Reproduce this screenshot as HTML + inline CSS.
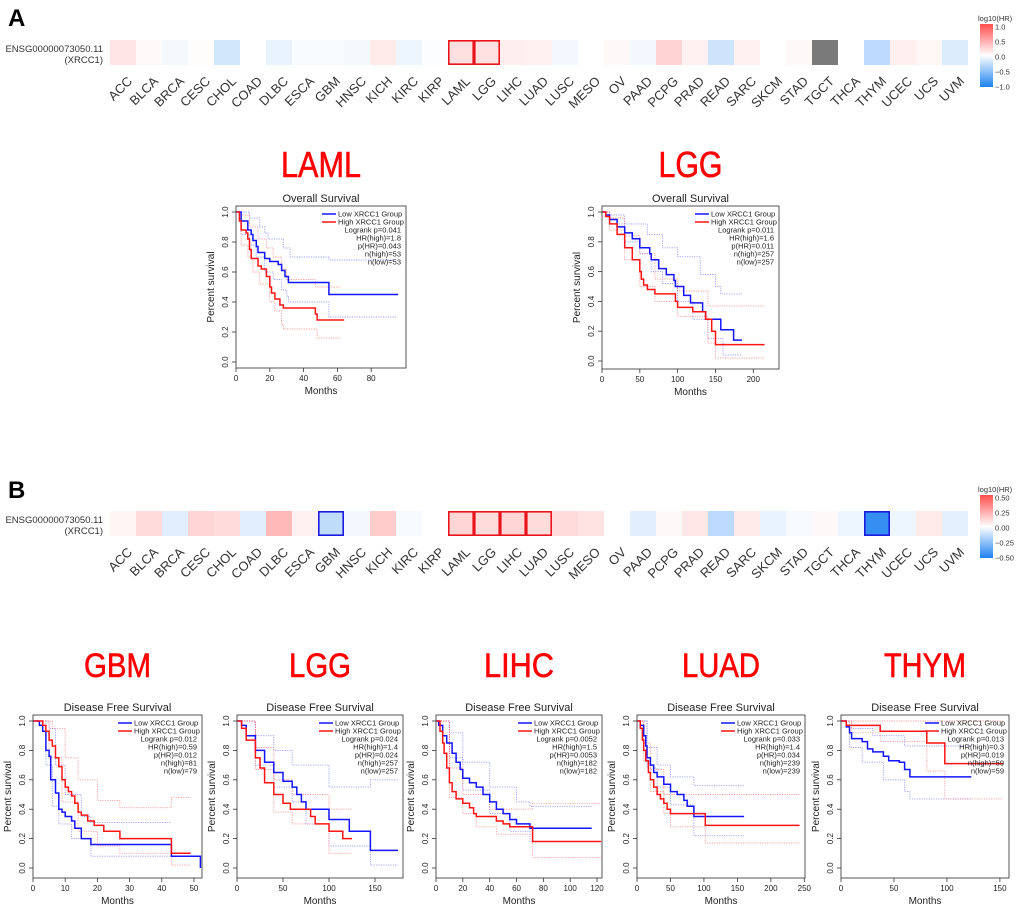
<!DOCTYPE html>
<html><head><meta charset="utf-8">
<style>
html,body{margin:0;padding:0;background:#fff;}
svg{display:block;font-family:"Liberation Sans",Arial,sans-serif;}
</style></head>
<body>
<svg id="fig" width="1020" height="906" viewBox="0 0 1020 906" xmlns="http://www.w3.org/2000/svg">
<text x="8" y="26" font-size="24" font-weight="bold">A</text>
<text x="8" y="498" font-size="24" font-weight="bold">B</text>
<g id="heatA"></g>
<g id="heatB"></g>
<g id="plots"></g>
</svg>
<script>
// ---------- heatmap data ----------
const cancers = ["ACC","BLCA","BRCA","CESC","CHOL","COAD","DLBC","ESCA","GBM","HNSC","KICH","KIRC","KIRP","LAML","LGG","LIHC","LUAD","LUSC","MESO","OV","PAAD","PCPG","PRAD","READ","SARC","SKCM","STAD","TGCT","THCA","THYM","UCEC","UCS","UVM"];
const hrA = [0.15,0.03,-0.05,0.02,-0.2,0,-0.1,-0.03,-0.03,-0.05,0.12,-0.08,-0.02,0.18,0.17,0.1,0.08,-0.06,0,0.04,-0.06,0.25,0.08,-0.22,0.08,0,0.04,null,0,-0.3,0.09,0.05,-0.15];
const sigA = ["LAML","LGG"];
const hrB = [0.03,0.1,-0.07,0.12,0.1,-0.07,0.2,0.04,-0.14,-0.03,0.15,-0.02,0,0.12,0.1,0.12,0.1,0.1,0.08,0,-0.07,0.02,0.07,-0.15,0.06,-0.05,-0.02,0.02,-0.04,-0.45,-0.04,0.06,-0.06];
const sigB = ["GBM","LAML","LGG","LIHC","LUAD","THYM"];
const barTicksA = ["1.0","0.5","0.0","\u22120.5","\u22121.0"];
const barTicksB = ["0.50","0.25","0.00","\u22120.25","\u22120.50"];

const NS="http://www.w3.org/2000/svg";
function mk(tag,attrs,parent,txt){const e=document.createElementNS(NS,tag);for(const k in attrs)e.setAttribute(k,attrs[k]);if(txt!==undefined)e.textContent=txt;parent.appendChild(e);return e;}
function col(v,scale){
  if(v===null) return "#7a7a7a";
  let t=Math.max(-1,Math.min(1,v/scale));
  if(t>=0){return `rgb(255,${Math.round(255-175*t)},${Math.round(255-175*t)})`;}
  t=-t;return `rgb(${Math.round(255-225*t)},${Math.round(255-125*t)},${Math.round(255-15*t)})`;
}
function heat(g,vals,sig,scale,top,ticks,defsId){
  const x0=110,w=26,h=25;
  let t=mk('text',{x:103,y:top+12,'font-size':9.5,'text-anchor':'end',fill:'#333'},g,'ENSG00000073050.11');
  
  t=mk('text',{x:103,y:top+23,'font-size':9.5,'text-anchor':'end',fill:'#333'},g,'(XRCC1)');
  
  cancers.forEach((c,i)=>{
    const r=mk('rect',{x:x0+i*w,y:top,width:w,height:h,fill:col(vals[i],scale)},g);
    
    
    const cx=x0+i*w+w/2;
    const l=mk('text',{x:cx+10,y:top+h+17,'font-size':13,'text-anchor':'end',fill:'#333',transform:`rotate(-45 ${cx+10} ${top+h+17})`},g,c);
    
    
  });
  cancers.forEach((c,i)=>{
    if(sig.indexOf(c)<0)return;
    const v=vals[i];
    const b=mk('rect',{x:x0+i*w+0.8,y:top+0.8,width:w-1.6,height:h-1.6,fill:'none',stroke:v>0?'#e8141c':'#1a1ae0','stroke-width':1.6},g);
    
    
  });
  const bt=top-16,bb=top+47;
  const defs=mk('defs',{},g);
  const lg=mk('linearGradient',{id:defsId,x1:0,y1:0,x2:0,y2:1},defs);
  mk('stop',{offset:'0','stop-color':'#ff4e4e'},lg);
  mk('stop',{offset:'0.5','stop-color':'#ffffff'},lg);
  mk('stop',{offset:'1','stop-color':'#1e82f0'},lg);
  const cb=mk('rect',{x:980,y:bt,width:13,height:bb-bt,fill:`url(#${defsId})`},g);
  
  t=mk('text',{x:978,y:bt-3,'font-size':7.5,fill:'#333'},g,'log10(HR)');
  
  ticks.forEach((s,k)=>{
    const y=bt+3+k*(bb-bt-3)/4;
    const e=mk('text',{x:995,y:y+2.5,'font-size':7.5,fill:'#333'},g,s);
    
  });
}
heat(document.getElementById('heatA'),hrA,sigA,1,40,barTicksA,'gA');
heat(document.getElementById('heatB'),hrB,sigB,0.5,511,barTicksB,'gB');

// ---------- survival data ----------
const lamlLow=[[3,0.94],[7,0.88],[9,0.85],[10,0.81],[12,0.77],[13,0.73],[17,0.69],[20,0.67],[25,0.65],[27,0.61],[29,0.57],[31,0.53],[55,0.45],[96,0.45]];
const lamlHigh=[[2,0.94],[3,0.88],[6,0.86],[7,0.82],[8,0.75],[9,0.69],[13,0.64],[15,0.62],[18,0.57],[20,0.5],[21,0.46],[23,0.42],[26,0.38],[28,0.36],[47,0.32],[48,0.28],[64,0.28]];
const lamlLowU=[[2,1],[8,0.96],[14,0.9],[17,0.86],[19,0.82],[28,0.76],[32,0.7],[55,0.68],[95,0.68]];
const lamlLowL=[[3,0.85],[8,0.78],[12,0.7],[17,0.6],[22,0.55],[27,0.48],[30,0.44],[31,0.4],[55,0.3],[95,0.3]];
const lamlHighU=[[3,0.98],[8,0.9],[13,0.82],[18,0.76],[22,0.7],[27,0.62],[30,0.55],[47,0.5],[62,0.5]];
const lamlHighL=[[3,0.78],[7,0.7],[10,0.6],[14,0.52],[20,0.4],[23,0.34],[27,0.25],[28,0.22],[48,0.16],[62,0.16]];

const lggALow=[[5,0.98],[10,0.95],[20,0.9],[30,0.86],[40,0.82],[50,0.76],[63,0.72],[65,0.68],[75,0.62],[85,0.58],[95,0.54],[97,0.5],[108,0.44],[117,0.39],[133,0.33],[137,0.28],[157,0.21],[174,0.14],[185,0.14]];
const lggAHigh=[[5,0.97],[10,0.92],[20,0.85],[30,0.76],[40,0.68],[50,0.6],[52,0.55],[55,0.51],[60,0.48],[70,0.45],[97,0.4],[100,0.36],[120,0.33],[137,0.28],[145,0.2],[150,0.11],[215,0.11]];
const lggALowU=[[10,0.98],[30,0.92],[60,0.85],[80,0.76],[100,0.7],[130,0.58],[150,0.5],[157,0.45],[185,0.45]];
const lggALowL=[[10,0.92],[30,0.8],[50,0.72],[65,0.6],[80,0.52],[100,0.4],[120,0.28],[140,0.15],[160,0.04],[185,0.04]];
const lggAHighU=[[10,0.96],[30,0.84],[50,0.72],[70,0.55],[100,0.47],[140,0.37],[215,0.37]];
const lggAHighL=[[10,0.88],[30,0.68],[50,0.5],[70,0.4],[100,0.3],[140,0.12],[150,0.02],[215,0.02]];

const gbmLow=[[2,0.97],[3,0.93],[4,0.8],[5,0.76],[5.5,0.6],[7,0.51],[8,0.4],[9,0.38],[10,0.35],[12,0.32],[13,0.27],[15,0.2],[18,0.16],[43,0.08],[52,0]];
const gbmHigh=[[3,0.97],[4,0.93],[5,0.87],[6,0.83],[7,0.75],[8,0.69],[9,0.6],[10,0.55],[11,0.52],[12,0.49],[13,0.44],[14,0.38],[15,0.36],[17,0.32],[19,0.29],[22,0.25],[27,0.2],[43,0.1],[49,0.1]];
const gbmLowU=[[5,0.95],[7,0.7],[10,0.5],[15,0.35],[18,0.31],[43,0.31]];
const gbmLowL=[[4,0.7],[6,0.42],[8,0.3],[12,0.2],[18,0.08],[52,0.08]];
const gbmHighU=[[6,0.95],[10,0.75],[14,0.6],[20,0.46],[27,0.41],[43,0.48],[49,0.48]];
const gbmHighL=[[5,0.75],[9,0.45],[14,0.25],[20,0.15],[27,0.1],[43,0.02],[49,0.02]];

const lggBLow=[[5,0.97],[10,0.9],[20,0.8],[30,0.72],[40,0.65],[50,0.59],[60,0.55],[65,0.5],[70,0.45],[75,0.4],[100,0.33],[122,0.25],[145,0.12],[175,0.12]];
const lggBHigh=[[5,0.95],[10,0.87],[20,0.75],[25,0.68],[30,0.58],[40,0.5],[50,0.44],[58,0.4],[80,0.35],[85,0.3],[100,0.25],[115,0.2],[125,0.2]];
const lggBLowU=[[20,0.9],[40,0.8],[60,0.7],[100,0.55],[145,0.6],[175,0.6]];
const lggBLowL=[[20,0.7],[40,0.55],[60,0.45],[75,0.3],[100,0.15],[145,0.02],[175,0.02]];
const lggBHighU=[[20,0.82],[40,0.6],[60,0.5],[100,0.4],[125,0.4]];
const lggBHighL=[[20,0.67],[40,0.38],[60,0.3],[100,0.1],[125,0.1]];

const lihcLow=[[2,0.97],[5,0.9],[8,0.85],[12,0.78],[15,0.72],[18,0.67],[20,0.61],[25,0.58],[30,0.55],[35,0.5],[40,0.45],[45,0.4],[50,0.37],[55,0.33],[60,0.3],[70,0.27],[116,0.27]];
const lihcHigh=[[3,0.93],[5,0.85],[6,0.78],[8,0.68],[10,0.58],[12,0.52],[15,0.47],[20,0.44],[25,0.41],[28,0.37],[30,0.35],[45,0.32],[50,0.3],[55,0.28],[72,0.18],[123,0.18]];
const lihcLowU=[[10,0.92],[20,0.72],[40,0.55],[60,0.45],[70,0.42],[116,0.42]];
const lihcLowL=[[10,0.75],[20,0.53],[40,0.37],[55,0.25],[70,0.18],[116,0.18]];
const lihcHighU=[[10,0.68],[20,0.5],[40,0.4],[72,0.44],[123,0.44]];
const lihcHighL=[[10,0.48],[20,0.37],[30,0.28],[45,0.23],[72,0.07],[123,0.07]];

const luadLow=[[5,0.97],[10,0.9],[13,0.83],[15,0.75],[20,0.7],[25,0.65],[30,0.62],[40,0.57],[50,0.52],[60,0.5],[70,0.46],[75,0.42],[85,0.35],[160,0.35]];
const luadHigh=[[5,0.95],[8,0.87],[10,0.8],[13,0.73],[17,0.65],[20,0.6],[25,0.55],[30,0.5],[35,0.47],[40,0.44],[45,0.4],[50,0.37],[102,0.29],[243,0.29]];
const luadLowU=[[15,0.82],[30,0.7],[50,0.62],[85,0.56],[160,0.56]];
const luadLowL=[[15,0.68],[30,0.55],[50,0.43],[85,0.22],[160,0.22]];
const luadHighU=[[10,0.85],[20,0.67],[40,0.5],[102,0.5],[243,0.5]];
const luadHighL=[[10,0.73],[20,0.52],[40,0.37],[50,0.28],[102,0.17],[243,0.17]];

const thymLow=[[5,0.96],[8,0.92],[10,0.88],[20,0.86],[25,0.81],[30,0.79],[40,0.76],[45,0.73],[55,0.72],[60,0.67],[65,0.62],[123,0.62]];
const thymHigh=[[5,0.97],[37,0.93],[81,0.85],[98,0.71],[153,0.71]];
const thymLowU=[[10,0.95],[30,0.9],[60,0.83],[123,0.83]];
const thymLowL=[[8,0.82],[20,0.72],[40,0.6],[60,0.52],[65,0.47],[123,0.47]];
const thymHighU=[[5,1.0],[153,1.0]];
const thymHighL=[[10,0.92],[37,0.86],[81,0.66],[98,0.47],[153,0.47]];

const yTicks=["0.0","0.2","0.4","0.6","0.8","1.0"];
const xTicksLAML=[0,20,40,60,80];
const xTicksLGGA=[0,50,100,150,200];
const xTicksGBM=[0,10,20,30,40,50];
const xTicksLGGB=[0,50,100,150];
const xTicksLIHC=[0,20,40,60,80,100,120];
const xTicksLUAD=[0,50,100,150,200,250];
const xTicksTHYM=[0,50,100,150];
const statsLAML=["Logrank p=0.041","HR(high)=1.8","p(HR)=0.043","n(high)=53","n(low)=53"];
const statsLGGA=["Logrank p=0.011","HR(high)=1.6","p(HR)=0.011","n(high)=257","n(low)=257"];
const statsGBM=["Logrank p=0.012","HR(high)=0.59","p(HR)=0.012","n(high)=81","n(low)=79"];
const statsLGGB=["Logrank p=0.024","HR(high)=1.4","p(HR)=0.024","n(high)=257","n(low)=257"];
const statsLIHC=["Logrank p=0.0052","HR(high)=1.5","p(HR)=0.0053","n(high)=182","n(low)=182"];
const statsLUAD=["Logrank p=0.033","HR(high)=1.4","p(HR)=0.034","n(high)=239","n(low)=239"];
const statsTHYM=["Logrank p=0.013","HR(high)=0.3","p(HR)=0.019","n(high)=59","n(low)=59"];

const plots=[
 {id:'laml-a',name:'LAML',nameW:80,title:'Overall Survival',L:236,R:406,T:206,B:368,y1:212,y0:362,xmax:100.6,xt:xTicksLAML,st:statsLAML,low:lamlLow,high:lamlHigh,lu:lamlLowU,ll:lamlLowL,hu:lamlHighU,hl:lamlHighL},
 {id:'lgg-a',name:'LGG',nameW:64,title:'Overall Survival',L:602,R:779,T:206,B:369,y1:212,y0:361,xmax:234,xt:xTicksLGGA,st:statsLGGA,low:lggALow,high:lggAHigh,lu:lggALowU,ll:lggALowL,hu:lggAHighU,hl:lggAHighL},
 {id:'gbm-b',name:'GBM',nameW:67,title:'Disease Free Survival',L:33,R:202,T:715,B:878,y1:721,y0:868,xmax:52.5,xt:xTicksGBM,st:statsGBM,low:gbmLow,high:gbmHigh,lu:gbmLowU,ll:gbmLowL,hu:gbmHighU,hl:gbmHighL},
 {id:'lgg-b',name:'LGG',nameW:62,title:'Disease Free Survival',L:237,R:403,T:715,B:878,y1:721,y0:868,xmax:180.4,xt:xTicksLGGB,st:statsLGGB,low:lggBLow,high:lggBHigh,lu:lggBLowU,ll:lggBLowL,hu:lggBHighU,hl:lggBHighL},
 {id:'lihc-b',name:'LIHC',nameW:70,title:'Disease Free Survival',L:436,R:602,T:715,B:878,y1:721,y0:868,xmax:123.7,xt:xTicksLIHC,st:statsLIHC,low:lihcLow,high:lihcHigh,lu:lihcLowU,ll:lihcLowL,hu:lihcHighU,hl:lihcHighL},
 {id:'luad-b',name:'LUAD',nameW:78,title:'Disease Free Survival',L:637,R:805,T:715,B:878,y1:721,y0:868,xmax:251,xt:xTicksLUAD,st:statsLUAD,low:luadLow,high:luadHigh,lu:luadLowU,ll:luadLowL,hu:luadHighU,hl:luadHighL},
 {id:'thym-b',name:'THYM',nameW:82,title:'Disease Free Survival',L:841,R:1009,T:715,B:878,y1:721,y0:868,xmax:158.6,xt:xTicksTHYM,st:statsTHYM,low:thymLow,high:thymHigh,lu:thymLowU,ll:thymLowL,hu:thymHighU,hl:thymHighL}
];

const pg=document.getElementById('plots');
plots.forEach(p=>{
  const g=mk('g',{},pg);
  
  
  const X=t=>p.L+(t/p.xmax)*(p.R-p.L);
  const Y=s=>p.y0+(p.y1-p.y0)*s;
  const big=p.T>500;
  const cx=(p.L+p.R)/2;
  let e=mk('text',{x:cx,y:big?677:177,'font-size':big?34:36,fill:'#f00','text-anchor':'middle',stroke:'#f00','stroke-width':0.6,textLength:p.nameW,lengthAdjust:'spacingAndGlyphs'},g,p.name);
  
  e=mk('text',{x:cx,y:p.T-4,'font-size':11,'text-anchor':'middle',fill:'#222'},g,p.title);
  
  function step(pts,color,dash,w,op){
    let d=`M${X(0)},${Y(1)}`;
    pts.forEach(([t,s])=>{d+=` H${X(t).toFixed(1)} V${Y(s).toFixed(1)}`;});
    const a={d:d,fill:'none',stroke:color,'stroke-width':w,opacity:op};
    if(dash)a['stroke-dasharray']=dash;
    return mk('path',a,g);
  }
  [[p.lu,'#5a5aff'],[p.ll,'#5a5aff'],[p.hu,'#ff5a5a'],[p.hl,'#ff5a5a']].forEach(([d,c])=>{
    const s=step(d,c,'1.2,1.2',0.9,0.6);
    
  });
  let s=step(p.low,'#1414ff',null,1.5,1);
  
  s=step(p.high,'#ff1414',null,1.5,1);
  
  e=mk('rect',{x:p.L,y:p.T,width:p.R-p.L,height:p.B-p.T,fill:'none',stroke:'#555','stroke-width':1},g);
  
  yTicks.forEach(v=>{
    const y=Y(parseFloat(v));
    mk('line',{x1:p.L-4,x2:p.L,y1:y,y2:y,stroke:'#333','stroke-width':0.8},g);
    const t=mk('text',{x:p.L-8,y:y,'font-size':8,'text-anchor':'middle',fill:'#222',transform:`rotate(-90 ${p.L-8} ${y})`},g,v);
    
  });
  p.xt.forEach(v=>{
    const x=X(v);
    mk('line',{x1:x,x2:x,y1:p.B,y2:p.B+4,stroke:'#333','stroke-width':0.8},g);
    const t=mk('text',{x:x,y:p.B+13,'font-size':8,'text-anchor':'middle',fill:'#222'},g,String(v));
    
  });
  e=mk('text',{x:cx,y:p.B+26,'font-size':10,'text-anchor':'middle',fill:'#222'},g,'Months');
  
  const ly=(p.T+p.B)/2;
  e=mk('text',{x:p.L-22,y:ly,'font-size':10,'text-anchor':'middle',fill:'#222',transform:`rotate(-90 ${p.L-22} ${ly})`},g,'Percent survival');
  
  mk('line',{x1:p.R-84,x2:p.R-70,y1:p.T+8,y2:p.T+8,stroke:'#1414ff','stroke-width':1.5},g);
  mk('line',{x1:p.R-84,x2:p.R-70,y1:p.T+16,y2:p.T+16,stroke:'#ff1414','stroke-width':1.5},g);
  e=mk('text',{x:p.R-68,y:p.T+10.5,'font-size':7.5,fill:'#222'},g,'Low XRCC1 Group');
  
  e=mk('text',{x:p.R-68,y:p.T+18.5,'font-size':7.5,fill:'#222'},g,'High XRCC1 Group');
  
  p.st.forEach((line,k)=>{
    const t=mk('text',{x:p.R-5,y:p.T+26.5+k*8,'font-size':7.5,'text-anchor':'end',fill:'#222'},g,line);
    
  });
});
</script>
</body></html>
